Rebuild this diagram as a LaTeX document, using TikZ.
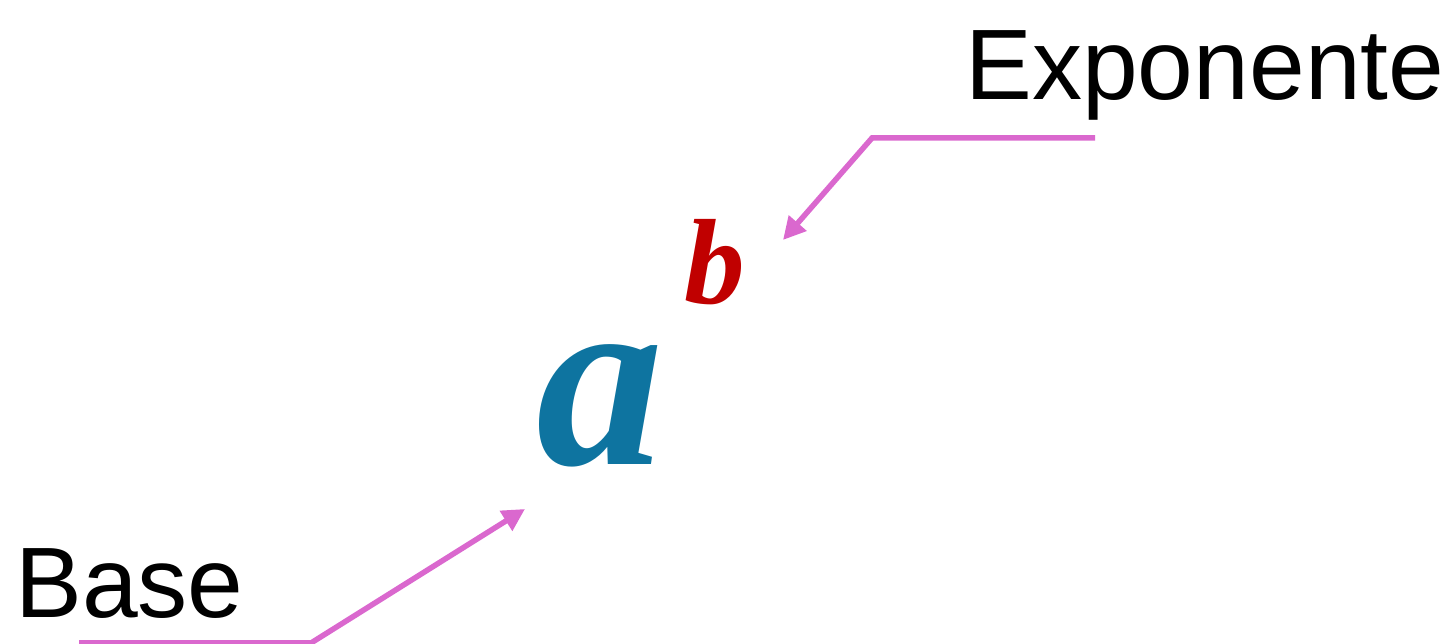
\documentclass[tikz,border=0pt]{standalone}
\usepackage{fontspec}
\setmainfont{Liberation Sans}
\newfontfamily\serifbi{Liberation Serif}
\usetikzlibrary{arrows.meta}
\definecolor{arrowpink}{RGB}{218,104,206}
\definecolor{basecol}{RGB}{14,116,160}
\definecolor{expcol}{RGB}{192,0,0}
\begin{document}
\begin{tikzpicture}[>={Triangle[length=0.45cm,width=0.45cm]}]
            \useasboundingbox (0,0) rectangle (29.1,12.88);
            \node[inner sep=0, anchor=base west, font=\fontsize{57}{60}\selectfont] (expo) at (19.3,10.88) {Exponente};
            \node[inner sep=0, anchor=base west, font=\fontsize{57}{60}\selectfont] (base) at (0.3,0.52) {Base};
            \node[inner sep=0, anchor=base, basecol, font=\fontsize{145}{150}\serifbi\bfseries\itshape] (a) at (12.0,3.58) {a};
            \node[inner sep=0, anchor=base, expcol, font=\fontsize{69}{72}\serifbi\bfseries\itshape] (b) at (14.3,6.8) {b};
            \coordinate (expoStart) at (21.9,10.12);
            \coordinate (expoBend) at (17.44,10.12);
            \coordinate (expoTip) at (15.66,8.08);
            \coordinate (baseStart) at (1.58,0.02);
            \coordinate (baseBend) at (6.22,0.02);
            \coordinate (baseTip) at (10.5,2.7);
            \draw[->, arrowpink, line width=0.11cm] (expoStart) -- (expoBend) -- (expoTip);
            \draw[->, arrowpink, line width=0.11cm] (baseStart) -- (baseBend) -- (baseTip);
        \end{tikzpicture}
\end{document}
